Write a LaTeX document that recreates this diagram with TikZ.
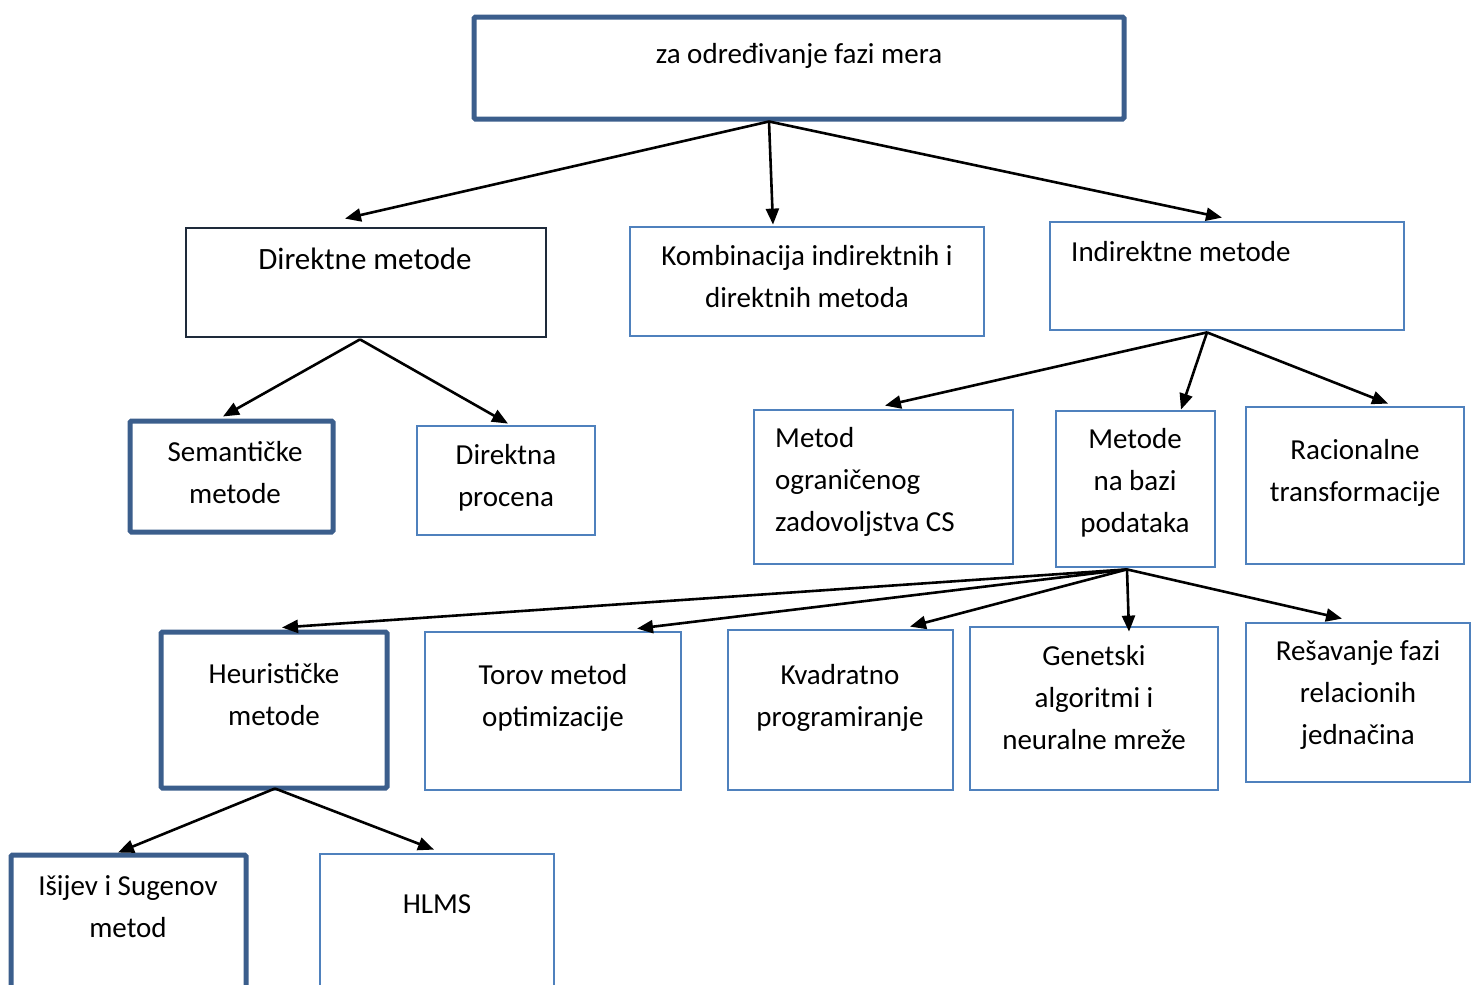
\documentclass[tikz,border=0pt]{standalone}
\usepackage{fontspec}
\setmainfont{Carlito}
\usetikzlibrary{arrows.meta,calc}
\definecolor{thickblue}{HTML}{3B5E8C}
\definecolor{thinblue}{HTML}{4F81BD}
\definecolor{darkline}{HTML}{1E2A3A}
\tikzset{
  boxthick/.style={draw=thickblue,line width=5pt,rounded corners=1.5pt,inner sep=0pt,fill=white},
  boxthin/.style={draw=thinblue,line width=2.8pt,inner sep=0pt,fill=white},
  boxdark/.style={draw=darkline,line width=2.8pt,inner sep=0pt,fill=white},
  lbl/.style={anchor=base,align=center,inner sep=0pt,font=\fontsize{29}{42}\selectfont},
  lbll/.style={anchor=base west,align=left,inner sep=0pt,font=\fontsize{29}{42}\selectfont},
  arr/.style={-{Triangle[length=16pt,width=13pt]},line width=2.6pt,black}
}
\begin{document}
\begin{tikzpicture}[x=1pt,y=-1pt]
\useasboundingbox (0,0) rectangle (1475,985);
\clip (0,0) rectangle (1475,985);
% boxes
\node[boxthick,minimum width=650pt,minimum height=102pt] (top) at (799,68) {};
\node[boxdark,minimum width=360pt,minimum height=109pt] (dm) at (366,282.5) {};
\node[boxthin,minimum width=354pt,minimum height=109pt] (komb) at (807,281.5) {};
\node[boxthin,minimum width=354pt,minimum height=108pt] (ind) at (1227,276) {};
\node[boxthick,minimum width=203pt,minimum height=111pt] (sem) at (231.5,476.5) {};
\node[boxthin,minimum width=178pt,minimum height=109pt] (dp) at (506,480.5) {};
\node[boxthin,minimum width=259pt,minimum height=154pt] (mog) at (883.5,487) {};
\node[boxthin,minimum width=159pt,minimum height=156pt] (mnb) at (1135.5,489) {};
\node[boxthin,minimum width=218pt,minimum height=157pt] (rac) at (1355,485.5) {};
\node[boxthick,minimum width=226pt,minimum height=156pt] (heu) at (274,710) {};
\node[boxthin,minimum width=256pt,minimum height=158pt] (tor) at (553,711) {};
\node[boxthin,minimum width=225pt,minimum height=160pt] (kva) at (840.5,710) {};
\node[boxthin,minimum width=248pt,minimum height=163pt] (gen) at (1094,708.5) {};
\node[boxthin,minimum width=224pt,minimum height=159pt] (res) at (1358,702.5) {};
\node[boxthick,minimum width=235pt,minimum height=150pt] (isi) at (128.5,930) {};
\node[boxthin,minimum width=234pt,minimum height=150pt] (hlms) at (437,929) {};
% labels (anchor base = baseline of last line)
\node[lbl] (ttop) at (799,63) {za određivanje fazi mera};
\node[lbl,font=\fontsize{31}{42}\selectfont] (tdm) at (365,269) {Direktne metode};
\node[lbl] (tkomb) at (807,307) {Kombinacija indirektnih i\\direktnih metoda};
\node[lbll] (tind) at (1071,261) {Indirektne metode};
\node[lbl] (tsem) at (235,503) {Semantičke\\metode};
\node[lbl] (tdp) at (506,506) {Direktna\\procena};
\node[lbll] (tmog) at (775,531) {Metod\\ograničenog\\zadovoljstva CS};
\node[lbl] (tmnb) at (1135,532) {Metode\\na bazi\\podataka};
\node[lbl] (trac) at (1355,501) {Racionalne\\transformacije};
\node[lbl] (theu) at (274,725) {Heurističke\\metode};
\node[lbl] (ttor) at (553,726) {Torov metod\\optimizacije};
\node[lbl] (tkva) at (840,726) {Kvadratno\\programiranje};
\node[lbl] (tgen) at (1094,749) {Genetski\\algoritmi i\\neuralne mreže};
\node[lbl] (tres) at (1358,744) {Rešavanje fazi\\relacionih\\jednačina};
\node[lbl] (tisi) at (128,937) {Išijev i Sugenov\\metod};
\node[lbl] (thlms) at (437,913) {HLMS};
% connectors
\draw[arr] ($(top.south)+(-30,0)$) -- ($(dm.north)+(-21,-8)$);
\draw[arr] ($(top.south)+(-30,0)$) -- ($(komb.north)+(-34,-1)$);
\draw[arr] ($(top.south)+(-30,0)$) -- ($(ind.north)+(-5,-3)$);
\draw[arr] ($(dm.south)+(-6,1)$) -- ($(sem.north)+(-8.5,-2)$);
\draw[arr] ($(dm.south)+(-6,1)$) -- ($(dp.north)+(2,-1)$);
\draw[arr] ($(ind.south)+(-20,1)$) -- ($(mog.north)+(1.5,-3)$);
\draw[arr] ($(ind.south)+(-20,1)$) -- ($(mnb.north)+(45.5,0)$);
\draw[arr] ($(ind.south)+(-20,1)$) -- ($(rac.north)+(33,-2)$);
\draw[arr] ($(mnb.south)+(-8.5,1)$) -- ($(heu.north)+(8,-2)$);
\draw[arr] ($(mnb.south)+(-8.5,1)$) -- ($(tor.north)+(84,-2)$);
\draw[arr] ($(mnb.south)+(-8.5,1)$) -- ($(kva.north)+(69.5,-2)$);
\draw[arr] ($(mnb.south)+(-8.5,1)$) -- ($(gen.north)+(35,6)$);
\draw[arr] ($(mnb.south)+(-8.5,1)$) -- ($(res.north)+(-16,-3)$);
\draw[arr] ($(heu.south)+(1,-2)$) -- ($(isi.north)+(-10.5,0)$);
\draw[arr] ($(heu.south)+(1,-2)$) -- ($(hlms.north)+(-3,-3)$);
\end{tikzpicture}
\end{document}
